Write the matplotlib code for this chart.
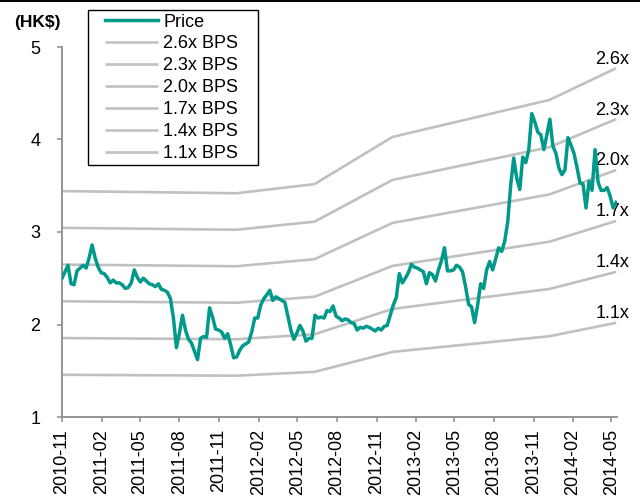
import numpy as np
import pandas as pd
import matplotlib
matplotlib.use('Agg')
import matplotlib.pyplot as plt
import matplotlib.dates as mdates
from matplotlib.legend_handler import HandlerLine2D
from matplotlib.lines import Line2D

plt.rcParams['font.family'] = ['Liberation Sans', 'DejaVu Sans']

# weekly share price (HK$), one value per week from 2010-11-01
price_start = '2010-11-01'
price = [
    2.50, 2.57, 2.64, 2.44, 2.43, 2.58, 2.61, 2.64, 2.61, 2.72,
    2.86, 2.72, 2.62, 2.56, 2.55, 2.51, 2.45, 2.48, 2.45, 2.45,
    2.43, 2.39, 2.40, 2.45, 2.59, 2.51, 2.46, 2.50, 2.47, 2.44,
    2.43, 2.41, 2.44, 2.38, 2.37, 2.35, 2.28, 2.07, 1.75, 1.91,
    2.10, 1.94, 1.84, 1.80, 1.71, 1.62, 1.85, 1.87, 1.86, 2.18,
    2.08, 1.95, 1.94, 1.92, 1.85, 1.90, 1.78, 1.64, 1.65, 1.72,
    1.77, 1.79, 1.81, 1.92, 2.07, 2.07, 2.21, 2.28, 2.32, 2.37,
    2.26, 2.30, 2.28, 2.26, 2.24, 2.09, 1.94, 1.84, 1.91, 1.99,
    1.93, 1.82, 1.85, 1.85, 2.10, 2.07, 2.08, 2.07, 2.15, 2.14,
    2.20, 2.09, 2.07, 2.04, 2.06, 2.05, 2.02, 2.01, 1.94, 1.97,
    1.96, 1.98, 1.97, 1.95, 1.93, 1.96, 1.94, 1.98, 1.99, 2.10,
    2.21, 2.29, 2.55, 2.45, 2.50, 2.56, 2.65, 2.62, 2.61, 2.59,
    2.57, 2.44, 2.56, 2.54, 2.47, 2.59, 2.69, 2.83, 2.58, 2.58,
    2.59, 2.64, 2.62, 2.57, 2.41, 2.22, 2.19, 2.02, 2.21, 2.44,
    2.39, 2.59, 2.68, 2.59, 2.71, 2.83, 2.79, 2.90, 3.11, 3.51,
    3.80, 3.58, 3.46, 3.81, 3.75, 3.89, 4.28, 4.19, 4.08, 4.05,
    3.89, 4.05, 4.22, 3.93, 3.85, 3.69, 3.62, 3.67, 4.02, 3.94,
    3.85, 3.70, 3.53, 3.52, 3.26, 3.55, 3.45, 3.89, 3.54, 3.45,
    3.45, 3.48, 3.39, 3.26, 3.32,
]

# book value per share (HK$) at the points where its trend changes
bps_dates = ['2010-11-01', '2011-12-12', '2012-06-10', '2012-12-08',
             '2013-12-08', '2014-05-12']
bps = [1.324, 1.315, 1.353, 1.549, 1.703, 1.835]

multiples = [2.6, 2.3, 2.0, 1.7, 1.4, 1.1]

teal = '#00998A'
band_grey = '#C0C0C0'
axis_grey = '#8C8C8C'


class InsetLine(HandlerLine2D):
    # legend sample line that starts a little in from the frame
    def __init__(self, inset, **kw):
        super().__init__(**kw)
        self.inset = inset

    def get_xdata(self, legend, xdescent, ydescent, width, height, fontsize):
        x0 = -xdescent + self.inset * fontsize
        x1 = -xdescent + width
        return np.array([x0, x1]), np.array([(x0 + x1) / 2])


dates = pd.date_range(price_start, periods=len(price), freq='7D')
bdates = pd.to_datetime(bps_dates)
bps = np.array(bps)

fig = plt.figure(figsize=(6.4, 4.98), dpi=100)
ax = fig.add_axes([62 / 640, 81 / 498, 555 / 640, 370 / 498])

band_lines = []
for m in multiples:
    ln, = ax.plot(bdates, m * bps, color=band_grey, lw=1.9, solid_capstyle='butt')
    band_lines.append(ln)
    ax.annotate(f'{m:.1f}x', xy=(bdates[-1], m * bps[-1]), xytext=(9.5, 6.5),
                textcoords='offset points', ha='right', va='center',
                fontsize=13, annotation_clip=False)

price_line, = ax.plot(dates, price, color=teal, lw=2.5, zorder=3)

ax.set_ylim(1, 5)
ax.set_yticks([1, 2, 3, 4, 5])
ax.set_xlim(pd.Timestamp('2010-11-01'), pd.Timestamp('2014-05-14'))
ax.xaxis.set_major_locator(mdates.MonthLocator(bymonth=[2, 5, 8, 11]))
ax.xaxis.set_major_formatter(mdates.DateFormatter('%Y-%m'))
plt.setp(ax.get_xticklabels(), rotation=90)

for side in ['top', 'right']:
    ax.spines[side].set_visible(False)
for side in ['left', 'bottom']:
    ax.spines[side].set_color(axis_grey)
    ax.spines[side].set_linewidth(1.3)
ax.tick_params(axis='both', direction='out', length=3.6, width=1.1,
               color=axis_grey, labelsize=13)
ax.tick_params(axis='y', pad=12)
ax.tick_params(axis='x', pad=5)

fig.text(37 / 640, 1 - 23 / 498, '(HK$)', fontsize=12.5, fontweight='bold',
         ha='center', va='center')

labels = ['Price'] + [f'{m:.1f}x BPS' for m in multiples]
handles = [price_line] + band_lines
leg = ax.legend(handles, labels, loc='upper left', mode='expand',
                bbox_to_anchor=(88 / 640, 1 - 164 / 498, 170 / 640, 154 / 498),
                bbox_transform=fig.transFigure, borderaxespad=0,
                fontsize=13, handlelength=3.7, handletextpad=0.28,
                labelspacing=0.27, borderpad=0.2, fancybox=False,
                framealpha=1, edgecolor='black',
                handler_map={Line2D: InsetLine(0.75)})
leg.get_frame().set_linewidth(1.0)

# rule along the top edge of the figure
fig.add_artist(Line2D([0, 1], [1 - 0.8 / 498, 1 - 0.8 / 498],
                      transform=fig.transFigure, color='black', lw=1.4))

fig.savefig('out.png', dpi=100)
